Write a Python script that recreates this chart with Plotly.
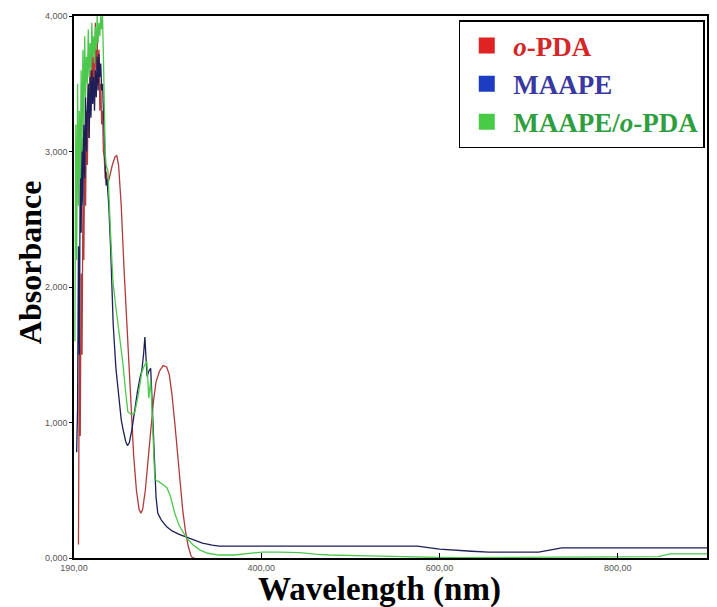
import plotly.graph_objects as go

# ---------------- data ----------------
# o-PDA (red)
opda_wl = [195, 196, 197, 198, 199, 200, 201, 202, 203, 204, 205, 206, 207, 208, 209, 210,
           211, 212, 213, 214, 215, 216, 217, 218, 219, 220, 221, 222, 223, 224, 225, 226,
           228, 230, 233, 236, 238, 240, 243, 246, 248, 251, 254, 257, 260, 263, 265, 267,
           270, 273, 276, 279, 282, 286, 290, 294, 297, 300, 303, 306, 309, 312, 315, 318,
           321, 323, 325]
opda_abs = [0.10, 1.60, 0.90, 2.10, 1.50, 2.60, 2.20, 3.00, 2.60, 3.30, 2.90, 3.50, 3.10, 3.60, 3.30, 3.80,
            3.40, 3.70, 3.50, 3.95, 3.60, 3.85, 3.50, 3.75, 3.30, 3.50, 3.20, 3.30, 3.00, 2.95, 2.80, 2.85,
            2.76, 2.82, 2.90, 2.96, 2.97, 2.90, 2.60, 2.15, 1.90, 1.50, 1.10, 0.75, 0.50, 0.36, 0.33, 0.36,
            0.50, 0.72, 0.95, 1.15, 1.30, 1.38, 1.42, 1.41, 1.35, 1.20, 1.00, 0.78, 0.55, 0.35, 0.20, 0.09,
            0.02, 0.00, 0.00]

# MAAPE (blue)
maape_wl = [193, 194, 195, 196, 197, 198, 199, 200, 201, 202, 203, 204, 205, 206, 207, 208,
            209, 210, 211, 212, 213, 214, 215, 216, 217, 218, 219, 220, 221, 222, 223, 224,
            225, 226, 227, 229, 231, 232.5, 234, 237, 240, 243, 245, 248, 250, 252, 255, 258,
            261, 264, 266, 268, 269.5, 271, 272, 274, 276, 277, 278.5, 280.5, 282, 284, 288, 294,
            300, 308, 316, 325, 334, 345, 353, 575, 600, 636, 655, 690, 711, 725, 737, 900]
maape_abs = [0.78, 1.10, 2.30, 1.50, 2.90, 2.40, 3.10, 2.60, 3.20, 2.80, 3.40, 3.00, 3.30, 3.50, 3.10, 3.55,
             3.25, 3.60, 3.35, 3.55, 3.30, 3.60, 3.40, 3.70, 3.45, 3.72, 3.55, 3.65, 3.45, 3.50, 3.30, 3.10,
             2.90, 2.75, 2.80, 2.60, 2.30, 2.05, 1.72, 1.40, 1.18, 1.02, 0.95, 0.86, 0.83, 0.85, 0.95, 1.10,
             1.22, 1.33, 1.38, 1.50, 1.63, 1.45, 1.34, 1.38, 1.40, 1.25, 0.97, 0.63, 0.45, 0.33, 0.28, 0.23,
             0.20, 0.175, 0.155, 0.13, 0.11, 0.095, 0.088, 0.088, 0.066, 0.05, 0.044, 0.044, 0.044, 0.06, 0.074, 0.074]

# MAAPE/o-PDA (green)
mix_wl = [191, 192, 193, 194, 195, 196, 197, 198, 199, 200, 201, 202, 203, 204, 205, 206,
          207, 208, 209, 210, 211, 212, 213, 214, 215, 216, 217, 218, 219, 220, 221, 222,
          223, 224, 225, 226, 228, 231, 233.6, 236, 240, 244.8, 248, 250.4, 254, 258, 262, 266,
          269, 271.7, 273.9, 276, 277.5, 279, 280.6, 283, 286, 290, 294, 298, 303, 308,
          316, 323, 331, 340, 353, 370, 385, 401, 420, 443, 460, 476, 520, 555,
          600, 622, 700, 726, 780, 845, 859, 900]
mix_abs = [1.60, 3.20, 2.20, 3.50, 2.60, 3.30, 2.80, 3.60, 3.00, 3.75, 3.20, 3.85, 3.40, 3.70, 3.50, 3.90,
           3.55, 3.80, 3.60, 3.95, 3.70, 3.85, 3.65, 3.92, 3.75, 4.00, 3.80, 3.95, 3.85, 4.00, 3.90, 4.00,
           3.70, 3.30, 3.00, 2.90, 2.86, 2.40, 2.05, 1.90, 1.70, 1.44, 1.22, 1.08, 1.06, 1.07, 1.20, 1.37,
           1.42, 1.45, 1.18, 1.31, 1.10, 0.80, 0.58, 0.57, 0.56, 0.54, 0.52, 0.46, 0.33, 0.24,
           0.15, 0.10, 0.06, 0.035, 0.022, 0.022, 0.035, 0.044, 0.044, 0.040, 0.028, 0.022, 0.015, 0.008,
           0.004, 0.003, 0.004, 0.008, 0.010, 0.010, 0.030, 0.030]

x_tickvals = [190, 400, 600, 800, 900]
x_ticktext = ["190,00", "400,00", "600,00", "800,00", "900,00"]
y_tickvals = [0, 1, 2, 3, 4]
y_ticktext = ["0,000", "1,000", "2,000", "3,000", "4,000"]

series_names = ["<i>o</i>-PDA", "MAAPE", "MAAPE/<i>o</i>-PDA"]
line_colors = ["#b23a3a", "#1e1e58", "#4cc84c"]
legend_square_colors = ["#e02222", "#1c3cc4", "#48cc48"]
legend_text_colors = ["#d42828", "#3838a0", "#2e9e3e"]

# ---------------- figure ----------------
fig = go.Figure()

for wl, ab, col in [(opda_wl, opda_abs, line_colors[0]),
                    (maape_wl, maape_abs, line_colors[1]),
                    (mix_wl, mix_abs, line_colors[2])]:
    fig.add_trace(go.Scatter(x=wl, y=ab, mode="lines",
                             line=dict(color=col, width=1.3),
                             showlegend=False, hoverinfo="skip"))

for name, sq, tc in zip(series_names, legend_square_colors, legend_text_colors):
    fig.add_trace(go.Scatter(x=[None], y=[None], mode="markers",
                             marker=dict(symbol="square", size=18, color=sq),
                             name=f'<span style="color:{tc}"><b>{name}</b></span>',
                             showlegend=True))

L, R, T, B = 74, 8, 16, 49
W, H = 717, 607
pw = W - L - R
ph = H - T - B

def px2paper(px, py):
    return (px - L) / pw, (H - B - py) / ph

fig.update_layout(
    width=W, height=H,
    margin=dict(l=L, r=R, t=T, b=B),
    paper_bgcolor="white",
    plot_bgcolor="white",
    font=dict(family="Liberation Serif", color="#000"),
    legend=dict(
        x=px2paper(460, 20)[0], y=px2paper(460, 20)[1],
        xanchor="left", yanchor="top",
        bgcolor="white", bordercolor="black", borderwidth=1.5,
        font=dict(family="Liberation Serif", size=27),
        itemsizing="trace",
        itemwidth=43,
        tracegroupgap=0,
    ),
    xaxis=dict(
        range=[190, 900],
        tickvals=x_tickvals, ticktext=x_ticktext,
        ticks="inside", ticklen=5, tickcolor="black",
        tickfont=dict(family="Liberation Sans", size=9, color="#555"),
        showline=True, linecolor="black", linewidth=1.5, mirror=True,
        showgrid=False, zeroline=False,
    ),
    yaxis=dict(
        range=[0, 4],
        tickvals=y_tickvals, ticktext=y_ticktext,
        ticks="outside", ticklen=3, tickcolor="black",
        tickfont=dict(family="Liberation Sans", size=9, color="#555"),
        showline=True, linecolor="black", linewidth=1.5, mirror=True,
        showgrid=False, zeroline=False,
    ),
)

ax, ay = px2paper(30, 262)
bx, by = px2paper(380, 589)
fig.add_annotation(x=ax, y=ay, xref="paper", yref="paper",
                   text="<b>Absorbance</b>", textangle=-90, showarrow=False,
                   font=dict(family="Liberation Serif", size=32, color="black"),
                   xanchor="center", yanchor="middle")
fig.add_annotation(x=bx, y=by, xref="paper", yref="paper",
                   text="<b>Wavelength (nm)</b>", showarrow=False,
                   font=dict(family="Liberation Serif", size=33, color="black"),
                   xanchor="center", yanchor="middle")

fig.write_html("out.html")
